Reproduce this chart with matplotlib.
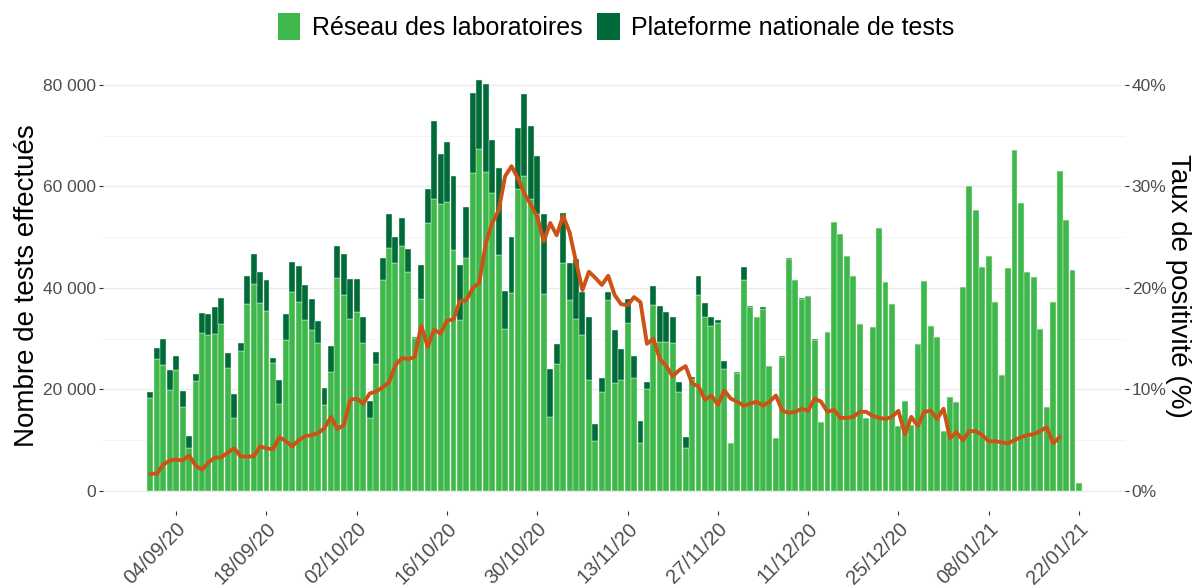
import numpy as np
import pandas as pd
import matplotlib
matplotlib.use('Agg')
import matplotlib.pyplot as plt
import matplotlib.dates as mdates
from matplotlib.patches import Patch
from matplotlib.ticker import FuncFormatter, MultipleLocator

plt.rcParams['font.family'] = ['Liberation Sans', 'DejaVu Sans']

# --- données (un point par jour, 31/08/20 -> 22/01/21) ---
dates = pd.date_range('2020-08-31', '2021-01-22', freq='D')

reseau = [
    18400, 26000, 24800, 19900, 23900, 16600, 8500, 21700, 31100, 30800,
    31000, 33000, 24300, 14300, 27500, 36800, 40800, 37000, 35500, 25200,
    17200, 29800, 39300, 37300, 33700, 31700, 29200, 17000, 23500, 41900,
    38600, 33800, 35200, 29100, 14300, 25000, 41600, 47800, 45000, 48200,
    43200, 30100, 37900, 52800, 57500, 56600, 56900, 47400, 33700, 45900,
    62600, 67400, 62800, 58700, 46500, 31900, 39000, 59500, 62000, 57500,
    54600, 38800, 14500, 25000, 45000, 37700, 33800, 30700, 21900, 9900,
    19600, 37700, 21200, 21900, 33100, 22200, 9500, 20000, 36700, 29400,
    29400, 29200, 19600, 8400, 22000, 38600, 34200, 32600, 33100, 24100,
    9500, 23200, 41600, 36200, 34200, 35800, 24600, 10400, 26400, 45700,
    41500, 37900, 38500, 29700, 13500, 31400, 53000, 50700, 46300, 42300,
    32900, 14300, 32400, 51800, 41200, 36900, 12900, 17700, 13000, 29000,
    41400, 32600, 30400, 11800, 18500, 17600, 40100, 60000, 55300, 44200,
    46300, 37300, 22800, 44000, 67200, 56800, 43100, 42100, 32000, 16600,
    37300, 63100, 53300, 43600, 1600,
]

plateforme = [
    1100, 2200, 5200, 4000, 2600, 3100, 2300, 1400, 3900, 4100,
    5200, 5000, 2800, 4800, 1700, 5500, 5900, 6200, 6000, 1100,
    4600, 5100, 5800, 7100, 6800, 6100, 4200, 3200, 5000, 6400,
    8100, 7900, 6500, 5100, 3500, 2300, 4300, 6700, 5100, 5500,
    4400, 300, 6700, 6700, 15500, 9800, 11800, 14600, 10900, 10100,
    15900, 13500, 17400, 10500, 17100, 7600, 11100, 12000, 16200, 14400,
    11400, 15800, 9600, 3900, 9700, 7300, 11900, 8600, 12300, 3200,
    2600, 1500, 10500, 6100, 4700, 4300, 4300, 1400, 3600, 7100,
    5800, 5100, 1800, 2200, 500, 3700, 2900, 1600, 600, 1600,
    0, 300, 2600, 300, 0, 400, 0, 0, 200, 200,
    0, 200, 0, 200, 0, 0, 0, 0, 0, 0,
    0, 0, 0, 0, 0, 0, 0, 0, 0, 0,
    0, 0, 0, 0, 0, 0, 0, 0, 0, 0,
    0, 0, 0, 0, 0, 0, 0, 0, 0, 0,
    0, 0, 0, 0, 0,
]

positivite = [
    1.7, 1.7, 2.6, 3.0, 3.1, 3.0, 3.5, 2.5, 2.1, 2.8,
    3.3, 3.3, 3.8, 4.2, 3.4, 3.4, 3.4, 4.4, 4.2, 4.1,
    5.3, 4.9, 4.4, 5.0, 5.4, 5.5, 5.7, 6.2, 7.3, 6.1,
    6.5, 9.0, 9.1, 8.6, 9.6, 9.8, 10.2, 10.7, 12.4, 13.1,
    13.0, 13.2, 16.3, 14.2, 15.9, 15.5, 16.8, 16.9, 18.7, 18.8,
    20.0, 20.5, 24.4, 26.4, 27.6, 31.0, 32.0, 30.8, 29.3, 28.2,
    27.0, 24.6, 26.4, 25.2, 27.1, 25.5, 22.6, 19.8, 21.6, 21.0,
    20.3, 21.2, 19.3, 18.4, 18.3, 19.1, 18.6, 14.5, 15.0, 13.0,
    12.3, 11.3, 11.9, 12.3, 10.6, 10.3, 9.0, 9.4, 8.5, 9.9,
    9.1, 8.8, 8.4, 8.6, 8.8, 8.4, 8.8, 9.4, 7.9, 7.7,
    7.8, 8.1, 7.9, 9.1, 8.8, 7.8, 8.0, 7.2, 7.2, 7.3,
    7.8, 7.8, 7.4, 7.2, 7.1, 7.3, 7.9, 5.6, 7.3, 6.4,
    7.8, 7.9, 7.1, 8.1, 5.2, 5.8, 5.0, 5.9, 5.9, 5.5,
    4.9, 4.9, 4.8, 4.7, 5.0, 5.3, 5.5, 5.6, 5.9, 6.3,
    4.7, 5.3, np.nan, np.nan, np.nan,
]

tick_dates = pd.date_range('2020-09-04', '2021-01-22', freq='14D')

VERT_CLAIR = '#3fb84b'
VERT_FONCE = '#006b38'
ORANGE = '#cc5216'
GRIS = '#4d4d4d'

# --- figure ---
fig = plt.figure(figsize=(11.94, 5.88), dpi=100)
ax = fig.add_axes([0.086, 0.131, 0.856, 0.767])

x = mdates.date2num(dates)
reseau = np.array(reseau)
plateforme = np.array(plateforme)

ax.bar(x, reseau, width=0.92, color=VERT_CLAIR, edgecolor='#e8f5e8', linewidth=0.3, zorder=2)
ax.bar(x, plateforme, bottom=reseau, width=0.92, color=VERT_FONCE, edgecolor='#e8f5e8',
       linewidth=0.3, zorder=2)

ax.set_xlim(x[0] - 7.4, x[0] + 151.1)
ax.set_ylim(-3940, 84930)

# grille façon ggplot
ax.yaxis.set_major_locator(MultipleLocator(20000))
ax.yaxis.set_minor_locator(MultipleLocator(10000))
ax.grid(axis='y', which='major', color='#ebebeb', linewidth=1.0, zorder=0)
ax.grid(axis='y', which='minor', color='#f3f3f3', linewidth=0.6, zorder=0)
ax.set_axisbelow(True)

ax.yaxis.set_major_formatter(FuncFormatter(lambda v, p: f"{int(v):,}".replace(',', ' ')))
ax.set_xticks(mdates.date2num(tick_dates))
ax.set_xticklabels([d.strftime('%d/%m/%y') for d in tick_dates], rotation=45,
                   ha='right', rotation_mode='anchor')

for s in ax.spines.values():
    s.set_visible(False)
ax.tick_params(axis='both', which='major', length=3, color='#333333', labelcolor=GRIS, width=0.8)
ax.tick_params(axis='y', which='minor', length=0)
ax.tick_params(axis='y', labelsize=12.5, pad=2)
ax.tick_params(axis='x', labelsize=14.5, pad=3)

# --- axe secondaire : taux de positivité ---
ax2 = ax.twinx()
ax2.plot(x, positivite, color=ORANGE, linewidth=2.8, zorder=3, solid_joinstyle='round')
ax2.set_ylim(-3940 / 2000, 84930 / 2000)
ax2.yaxis.set_major_locator(MultipleLocator(10))
ax2.yaxis.set_major_formatter(FuncFormatter(lambda v, p: f"{int(v)}%"))
for s in ax2.spines.values():
    s.set_visible(False)
ax2.tick_params(axis='y', length=3, color='#333333', labelcolor=GRIS, labelsize=12.5, pad=2)

# titres des axes
fig.text(27 / 1194, 0.514, 'Nombre de tests effectués', fontsize=20, rotation=90,
         ha='center', va='center')
fig.text(1178 / 1194, 0.514, 'Taux de positivité (%)', fontsize=20, rotation=270,
         ha='center', va='center')

# --- légende ---
handles = [Patch(facecolor=VERT_CLAIR, edgecolor='none'),
           Patch(facecolor=VERT_FONCE, edgecolor='none')]
fig.legend(handles, ['Réseau des laboratoires', 'Plateforme nationale de tests'],
           loc='center', bbox_to_anchor=(0.516, 0.955), ncol=2, frameon=False,
           fontsize=18, handlelength=0.9, handleheight=1.3, handletextpad=0.45,
           columnspacing=0.6)

fig.savefig('out.png', dpi=100)
